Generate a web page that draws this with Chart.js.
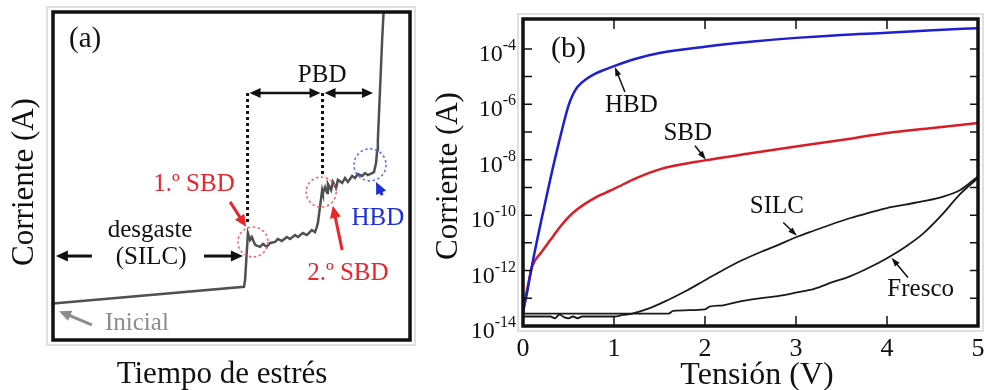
<!DOCTYPE html>
<html><head><meta charset="utf-8">
<script src="https://cdn.jsdelivr.net/npm/chart.js@4.4.0/dist/chart.umd.min.js"></script>
<style>
html,body{margin:0;padding:0;background:#fff;}
#wrap{position:relative;width:985px;height:390px;overflow:hidden;}
canvas{position:absolute;top:0;}
#ca{left:0;} #cb{left:420px;}
</style></head><body>
<div id="wrap"><canvas id="ca" width="420" height="390"></canvas><canvas id="cb" width="565" height="390"></canvas></div>
<script>
// ---------- Panel (a): schematic current vs stress time (arbitrary units 0-100) ----------
const stressTime = [0, 53.5, 53.8, 54.6, 55.2, 55.7, 56.6, 58.0, 58.8, 59.9, 60.8, 62.2, 63.0, 64.1, 65.5, 66.4, 67.8, 68.6, 70.0, 71.1, 72.5, 73.4, 73.9, 74.2, 75.4, 75.6, 76.2, 76.8, 77.0, 77.9, 78.4, 79.3, 79.8, 81.0, 81.8, 82.6, 83.8, 84.6, 85.4, 86.6, 87.4, 88.2, 89.4, 89.9, 90.5, 90.8, 91.0, 91.6, 92.2, 92.6];
const currentA   = [11.1, 16.2, 18.3, 32.6, 30.5, 31.4, 29.0, 28.4, 29.3, 28.4, 29.6, 29.9, 30.8, 30.2, 31.4, 30.8, 32.0, 31.4, 32.6, 32.0, 33.5, 32.9, 34.5, 35.7, 45.7, 44.8, 46.6, 44.8, 47.6, 45.7, 48.2, 46.3, 48.8, 47.9, 49.4, 48.2, 50.0, 49.4, 50.6, 50.0, 50.9, 50.3, 50.9, 51.2, 54.0, 57.9, 61.0, 76.2, 91.5, 100];

// ---------- Panel (b): I-V curves ----------
const hbdV  = [0, 0.05, 0.1, 0.2, 0.3, 0.4, 0.5, 0.55, 0.6, 0.7, 0.8, 0.9, 1.0, 1.25, 1.5, 2.0, 2.5, 3.0, 3.5, 4.0, 4.5, 5.0];
const hbdI  = [3.2e-14, 2.0e-13, 1.6e-12, 6.3e-11, 2.0e-9, 5.0e-8, 9.0e-7, 2.3e-6, 4.3e-6, 8.3e-6, 1.3e-5, 1.8e-5, 2.4e-5, 4.5e-5, 7.1e-5, 1.2e-4, 1.8e-4, 2.5e-4, 3.2e-4, 3.8e-4, 4.7e-4, 5.6e-4];
const sbdV  = [0, 0.05, 0.1, 0.2, 0.3, 0.4, 0.5, 0.6, 0.7, 0.8, 0.9, 1.0, 1.25, 1.5, 2.0, 2.5, 3.0, 3.5, 4.0, 4.5, 5.0];
const sbdI  = [3.2e-14, 2.5e-13, 1.4e-12, 4.5e-12, 1.26e-11, 3.5e-11, 8.5e-11, 1.66e-10, 2.8e-10, 4.4e-10, 6.3e-10, 8.9e-10, 2.2e-9, 4.5e-9, 9.5e-9, 1.7e-8, 3.0e-8, 5.2e-8, 9.3e-8, 1.4e-7, 2.1e-7];
const silcV = [0, 0.3, 0.35, 0.4, 0.45, 0.5, 0.55, 0.6, 0.65, 0.7, 1.0, 1.1, 1.2, 1.4, 1.6, 1.8, 2.0, 2.2, 2.4, 2.6, 2.8, 3.0, 3.2, 3.4, 3.6, 3.8, 4.0, 4.2, 4.4, 4.6, 4.8, 5.0];
const silcI = [2.2e-14, 2.2e-14, 1.9e-14, 2.6e-14, 2.1e-14, 1.9e-14, 2.2e-14, 1.9e-14, 2.2e-14, 2.2e-14, 2.2e-14, 2.5e-14, 2.8e-14, 4.5e-14, 8.9e-14, 1.9e-13, 4.5e-13, 1.05e-12, 2.3e-12, 4.5e-12, 8.3e-12, 1.6e-11, 2.8e-11, 4.8e-11, 7.9e-11, 1.2e-10, 1.8e-10, 2.4e-10, 3.2e-10, 4.5e-10, 7.9e-10, 2.5e-9];
const frescoV = [0, 1.6, 1.65, 2.0, 2.05, 2.2, 2.4, 2.6, 2.8, 3.0, 3.2, 3.4, 3.6, 3.8, 4.0, 4.2, 4.4, 4.6, 4.8, 5.0];
const frescoI = [2.8e-14, 2.8e-14, 3.5e-14, 4.0e-14, 5.0e-14, 5.6e-14, 7.9e-14, 1.0e-13, 1.2e-13, 1.6e-13, 2.2e-13, 3.8e-13, 6.3e-13, 1.26e-12, 2.8e-12, 7.1e-12, 2.2e-11, 1.0e-10, 5.6e-10, 2.2e-9];

const voltTicks = [0, 1, 2, 3, 4, 5];
const decadeLabels = [-14, -12, -10, -8, -6, -4];
const decadeTicks = [-13, -12, -11, -10, -9, -8, -7, -6, -5, -4];

const SERIF = '"Liberation Serif", "Times New Roman", serif';

function pts(xs, ys){ return xs.map((x,i)=>({x:x, y:ys[i]})); }

function arrow(ctx, x1, y1, x2, y2, color, lw, hl, hw, both){
  const a = Math.atan2(y2-y1, x2-x1);
  ctx.save();
  ctx.strokeStyle = color; ctx.fillStyle = color; ctx.lineWidth = lw; ctx.setLineDash([]);
  const sx = both ? x1 + Math.cos(a)*hl*0.8 : x1, sy = both ? y1 + Math.sin(a)*hl*0.8 : y1;
  const ex = x2 - Math.cos(a)*hl*0.8, ey = y2 - Math.sin(a)*hl*0.8;
  ctx.beginPath(); ctx.moveTo(sx, sy); ctx.lineTo(ex, ey); ctx.stroke();
  function head(x, y, ang){
    const bx = x - Math.cos(ang)*hl, by = y - Math.sin(ang)*hl;
    ctx.beginPath(); ctx.moveTo(x, y);
    ctx.lineTo(bx - Math.sin(ang)*hw/2, by + Math.cos(ang)*hw/2);
    ctx.lineTo(bx + Math.sin(ang)*hw/2, by - Math.cos(ang)*hw/2);
    ctx.closePath(); ctx.fill();
  }
  head(x2, y2, a);
  if (both) head(x1, y1, a + Math.PI);
  ctx.restore();
}

function text(ctx, s, x, y, size, color, align, baseline){
  ctx.save();
  ctx.font = size + 'px ' + SERIF;
  ctx.fillStyle = color;
  ctx.textAlign = align || 'center';
  ctx.textBaseline = baseline || 'middle';
  ctx.fillText(s, x, y);
  ctx.restore();
}

// ---- panel (a) annotations in data coordinates ----
const annA = {
  labels: [
    {t:'(a)', x:9.0, y:91.5, size:29, color:'#111'},
    {t:'PBD', x:75.4, y:80.8, size:25, color:'#111'},
    {t:'1.º SBD', x:39.5, y:47.3, size:25, color:'#e8262c'},
    {t:'2.º SBD', x:82.6, y:20.4, size:25, color:'#e8262c'},
    {t:'HBD', x:91.0, y:37.2, size:25, color:'#1f2fd6'},
    {t:'desgaste', x:27.2, y:33.5, size:25, color:'#111'},
    {t:'(SILC)', x:27.5, y:25.3, size:25, color:'#111'},
    {t:'Inicial', x:23.5, y:4.9, size:25, color:'#8c8c8c'}
  ],
  dotted: [ {x:54.5, y1:75.3, y2:36.0}, {x:75.5, y1:75.3, y2:49.7} ],
  dbl: [ {x1:54.5, x2:75.5, y:75.3}, {x1:75.5, x2:90.2, y:75.3} ],
  circles: [ {x:56.0, y:29.9, r:15, color:'#f06a6a'}, {x:75.1, y:45.1, r:15, color:'#f06a6a'}, {x:88.8, y:53.4, r:16, color:'#5a78e0'} ],
  arrows: [
    {x1:49.6, y1:42.1, x2:54.1, y2:34.5, color:'#e8262c'},
    {x1:81.0, y1:27.4, x2:78.4, y2:40.9, color:'#e8262c'},
    {x1:92.2, y1:44.2, x2:90.5, y2:48.2, color:'#1f2fd6'},
    {x1:10.9, y1:4.6, x2:1.7, y2:8.8, color:'#8c8c8c'},
    {x1:10.9, y1:25.6, x2:0.8, y2:25.6, color:'#111'},
    {x1:42.3, y1:25.6, x2:53.2, y2:25.6, color:'#111'}
  ]
};

const plugA = {
  id: 'plugA',
  afterDraw(chart){
    const ctx = chart.ctx, ca = chart.chartArea, xs = chart.scales.x, ys = chart.scales.y;
    const X = v => xs.getPixelForValue(v), Y = v => ys.getPixelForValue(v);
    ctx.save();
    ctx.strokeStyle = '#d6d6d6'; ctx.lineWidth = 1.5;
    ctx.strokeRect(47, 7, 368, 338);
    ctx.strokeStyle = '#111'; ctx.lineWidth = 3.5;
    ctx.strokeRect(ca.left, ca.top, ca.right - ca.left, ca.bottom - ca.top);
    ctx.lineWidth = 3; ctx.setLineDash([3, 3]); ctx.strokeStyle = '#111';
    annA.dotted.forEach(d => { ctx.beginPath(); ctx.moveTo(X(d.x), Y(d.y1)); ctx.lineTo(X(d.x), Y(d.y2)); ctx.stroke(); });
    ctx.lineWidth = 1.6; ctx.setLineDash([2.5, 2.5]);
    annA.circles.forEach(c => { ctx.strokeStyle = c.color; ctx.beginPath(); ctx.arc(X(c.x), Y(c.y), c.r, 0, Math.PI*2); ctx.stroke(); });
    ctx.setLineDash([]);
    ctx.restore();
    annA.dbl.forEach(d => arrow(ctx, X(d.x1)+2, Y(d.y), X(d.x2)-2, Y(d.y), '#111', 2.5, 11, 10, true));
    annA.arrows.forEach(a => arrow(ctx, X(a.x1), Y(a.y1), X(a.x2), Y(a.y2), a.color, 3, 12, 11, false));
    annA.labels.forEach(l => text(ctx, l.t, X(l.x), Y(l.y), l.size, l.color));
    ctx.save();
    ctx.translate(33, 182); ctx.rotate(-Math.PI/2);
    text(ctx, 'Corriente (A)', 0, 0, 31, '#111', 'center', 'alphabetic');
    ctx.restore();
    text(ctx, 'Tiempo de estrés', 222, 383, 31, '#111', 'center', 'alphabetic');
  }
};

new Chart(document.getElementById('ca'), {
  type: 'line',
  data: { datasets: [{ data: pts(stressTime, currentA), borderColor: '#505050', borderWidth: 2.5, pointRadius: 0, tension: 0 }] },
  options: {
    responsive: false, animation: false, devicePixelRatio: 1, events: [],
    layout: { padding: { left: 53, top: 12, right: 10, bottom: 50 } },
    plugins: { legend: { display: false }, tooltip: { enabled: false } },
    scales: {
      x: { type: 'linear', min: 0, max: 100, display: false },
      y: { type: 'linear', min: 0, max: 100, display: false }
    }
  },
  plugins: [plugA]
});

// ---- panel (b) annotations in data coordinates (V, A) ----
const annB = {
  labels: [
    {t:'(b)', x:0.5, y:1.0e-4, size:30},
    {t:'HBD', x:1.19, y:9.5e-7, size:25},
    {t:'SBD', x:1.81, y:8.7e-8, size:25},
    {t:'SILC', x:2.79, y:2.0e-10, size:25},
    {t:'Fresco', x:4.37, y:2.1e-13, size:25}
  ],
  arrows: [
    {x1:1.12, y1:2.8e-6, x2:1.01, y2:2.2e-5},
    {x1:1.89, y1:3.2e-8, x2:2.01, y2:1.0e-8},
    {x1:2.86, y1:5.4e-11, x2:3.01, y2:1.8e-11},
    {x1:4.23, y1:5.6e-13, x2:4.05, y2:2.9e-12}
  ]
};

const plugB = {
  id: 'plugB',
  afterDraw(chart){
    const ctx = chart.ctx, ca = chart.chartArea, xs = chart.scales.x, ys = chart.scales.y;
    const X = v => xs.getPixelForValue(v), Y = v => ys.getPixelForValue(v);
    ctx.save();
    ctx.strokeStyle = '#d6d6d6'; ctx.lineWidth = 1.5;
    ctx.strokeRect(ca.left - 5, ca.top - 5, ca.right - ca.left + 10, ca.bottom - ca.top + 10);
    ctx.strokeStyle = '#111'; ctx.lineWidth = 3.5;
    ctx.strokeRect(ca.left, ca.top, ca.right - ca.left, ca.bottom - ca.top);
    ctx.lineWidth = 1.5;
    ctx.beginPath();
    voltTicks.forEach(v => {
      if (v === 0 || v === 5) return;
      const x = X(v);
      ctx.moveTo(x, ca.bottom); ctx.lineTo(x, ca.bottom - 10);
      ctx.moveTo(x, ca.top); ctx.lineTo(x, ca.top + 10);
    });
    decadeTicks.forEach(e => {
      const y = Y(Math.pow(10, e));
      ctx.moveTo(ca.left, y); ctx.lineTo(ca.left + 9, y);
      ctx.moveTo(ca.right, y); ctx.lineTo(ca.right - 8, y);
    });
    ctx.stroke();
    ctx.restore();
    voltTicks.forEach(v => text(ctx, String(v), X(v), 356, 26, '#111', 'center', 'alphabetic'));
    decadeLabels.forEach(e => {
      const y = Y(Math.pow(10, e));
      ctx.save();
      ctx.font = '16px ' + SERIF;
      const sup = String(e);
      const sw = ctx.measureText(sup).width;
      const right = ca.left - 7;
      ctx.fillStyle = '#111'; ctx.textAlign = 'left'; ctx.textBaseline = 'alphabetic';
      ctx.fillText(sup, right - sw, y + 1);
      ctx.font = '24px ' + SERIF; ctx.textAlign = 'right';
      ctx.fillText('10', right - sw, y + 12);
      ctx.restore();
    });
    annB.arrows.forEach(a => arrow(ctx, X(a.x1), Y(a.y1), X(a.x2), Y(a.y2), '#111', 1.5, 9, 6, false));
    annB.labels.forEach(l => text(ctx, l.t, X(l.x), Y(l.y), l.size, '#111'));
    ctx.save();
    ctx.translate(37, 176); ctx.rotate(-Math.PI/2);
    text(ctx, 'Corriente (A)', 0, 0, 31, '#111', 'center', 'alphabetic');
    ctx.restore();
    text(ctx, 'Tensión (V)', 337, 384, 32, '#111', 'center', 'alphabetic');
  }
};

new Chart(document.getElementById('cb'), {
  type: 'line',
  data: { datasets: [
    { label: 'HBD', data: pts(hbdV, hbdI), borderColor: '#1e1ed2', borderWidth: 2.5, pointRadius: 0, cubicInterpolationMode: 'monotone' },
    { label: 'SBD', data: pts(sbdV, sbdI), borderColor: '#dc1c24', borderWidth: 2.5, pointRadius: 0, cubicInterpolationMode: 'monotone' },
    { label: 'SILC', data: pts(silcV, silcI), borderColor: '#1a1a1a', borderWidth: 1.8, pointRadius: 0, cubicInterpolationMode: 'monotone' },
    { label: 'Fresco', data: pts(frescoV, frescoI), borderColor: '#1a1a1a', borderWidth: 1.8, pointRadius: 0, cubicInterpolationMode: 'monotone' }
  ] },
  options: {
    responsive: false, animation: false, devicePixelRatio: 1, events: [],
    layout: { padding: { left: 103, top: 19, right: 7, bottom: 64 } },
    plugins: { legend: { display: false }, tooltip: { enabled: false } },
    scales: {
      x: { type: 'linear', min: 0, max: 5, display: false },
      y: { type: 'logarithmic', min: 1e-14, max: 1.2e-3, display: false }
    }
  },
  plugins: [plugB]
});
</script>
</body></html>
